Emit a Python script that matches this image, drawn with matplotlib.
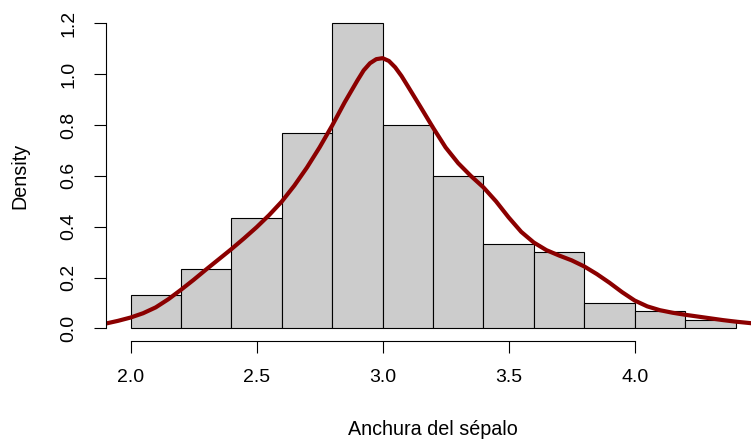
import matplotlib
matplotlib.use('Agg')
from matplotlib import pyplot as plt

plt.rcParams['font.family'] = ['Liberation Sans', 'DejaVu Sans']

# histogram of sepal width (density scale)
breaks = [2.0, 2.2, 2.4, 2.6, 2.8, 3.0, 3.2, 3.4, 3.6, 3.8, 4.0, 4.2, 4.4]
density = [0.133, 0.233, 0.433, 0.767, 1.2, 0.8, 0.6, 0.333, 0.3, 0.1, 0.067, 0.033]

# kernel density curve
kde_x = [1.90, 1.95, 2.00, 2.05, 2.10, 2.15, 2.20, 2.25, 2.30, 2.35, 2.40, 2.45,
         2.50, 2.55, 2.60, 2.65, 2.70, 2.75, 2.80, 2.85, 2.90, 2.925, 2.95, 2.975,
         3.00, 3.025, 3.05, 3.075, 3.10, 3.15, 3.20, 3.25, 3.30, 3.35, 3.40, 3.45,
         3.50, 3.55, 3.60, 3.65, 3.70, 3.75, 3.80, 3.85, 3.90, 3.95, 4.00, 4.05,
         4.10, 4.15, 4.20, 4.25, 4.30, 4.35, 4.40, 4.45, 4.50]
kde_y = [0.019, 0.030, 0.043, 0.060, 0.083, 0.115, 0.152, 0.191, 0.232, 0.272, 0.312, 0.354,
         0.398, 0.446, 0.499, 0.562, 0.633, 0.712, 0.798, 0.890, 0.975, 1.015, 1.043, 1.059,
         1.063, 1.052, 1.027, 0.993, 0.953, 0.872, 0.790, 0.712, 0.650, 0.600, 0.555, 0.500,
         0.437, 0.380, 0.338, 0.308, 0.287, 0.268, 0.244, 0.214, 0.180, 0.143, 0.110, 0.087,
         0.072, 0.062, 0.054, 0.047, 0.040, 0.033, 0.027, 0.022, 0.017]

xticks = [2.0, 2.5, 3.0, 3.5, 4.0]
yticks = [0.0, 0.2, 0.4, 0.6, 0.8, 1.0, 1.2]

fig = plt.figure(figsize=(7.51, 4.44), dpi=100)
ax = fig.add_axes([106.3 / 751, 1 - 340.7 / 444, (759.7 - 106.3) / 751, (340.7 - 11.1) / 444])

lefts = breaks[:-1]
widths = [b - a for a, b in zip(breaks[:-1], breaks[1:])]
ax.bar(lefts, density, width=widths, align='edge', color='#cccccc',
       edgecolor='black', linewidth=0.8)
ax.plot(kde_x, kde_y, color='#8b0000', linewidth=3.0,
        solid_capstyle='butt', solid_joinstyle='round')

ax.set_xlim(1.904, 4.496)
ax.set_ylim(-0.048, 1.248)

for s in ['top', 'right']:
    ax.spines[s].set_visible(False)
ax.spines['bottom'].set_bounds(2.0, 4.0)
ax.spines['left'].set_bounds(0.0, 1.2)
ax.spines['bottom'].set_linewidth(0.8)
ax.spines['left'].set_linewidth(0.8)

ax.set_xticks(xticks)
ax.set_xticklabels(['%.1f' % v for v in xticks])
ax.set_yticks(yticks)
ax.set_yticklabels(['%.1f' % v for v in yticks])
ax.tick_params(axis='both', length=8.6, width=0.8, labelsize=14, pad=12)
ax.tick_params(axis='y', labelrotation=90)
for lab in ax.get_yticklabels():
    lab.set_va('center')

fig.text(433 / 751, 1 - 429 / 444, 'Anchura del sépalo', ha='center', va='center', fontsize=14.2)
fig.text(20 / 751, 1 - 176 / 444, 'Density', ha='center', va='center', rotation=90, fontsize=14.2)

fig.savefig('out.png', dpi=100)
